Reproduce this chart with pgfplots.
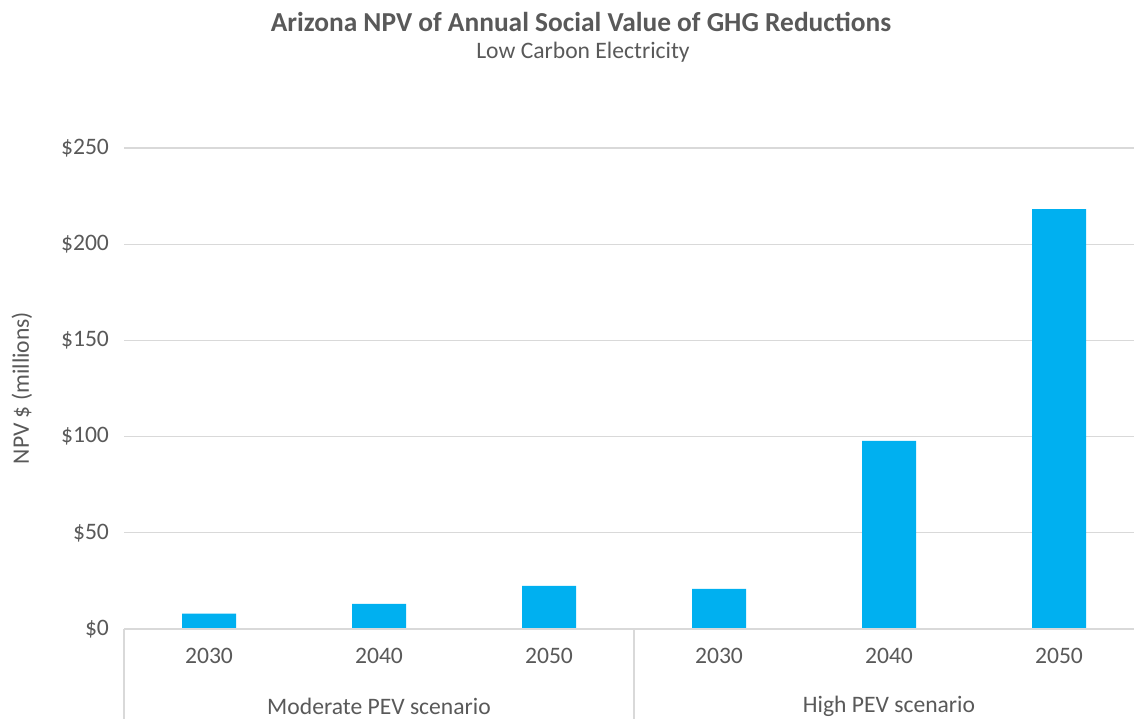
\documentclass[border=0pt]{standalone}
\usepackage{pgfplots}
\pgfplotsset{compat=1.18}
\usepackage{fontspec}
\setmainfont{Carlito}
\definecolor{txt}{HTML}{595959}
\definecolor{gridc}{HTML}{D9D9D9}
\definecolor{barc}{HTML}{00B0F0}
\begin{document}
\begin{tikzpicture}[x=1pt,y=1pt]
\useasboundingbox (0,0) rectangle (567,359.5);
\begin{axis}[
  at={(62pt,45pt)}, anchor=south west,
  scale only axis, width=510pt, height=240.5pt,
  xmin=0, xmax=6, ymin=0, ymax=250,
  axis line style={draw=none},
  ytick={0,50,100,150,200,250},
  yticklabel={\$\pgfmathprintnumber{\tick}},
  /pgf/number format/assume math mode=true,
  ymajorgrids=true, xmajorgrids=false,
  grid style={draw=gridc, line width=0.6pt},
  major tick length=0pt,
  xtick={0.5,1.5,2.5,3.5,4.5,5.5},
  xticklabels={2030,2040,2050,2030,2040,2050},
  tick label style={font=\fontsize{11.8}{14}\selectfont, text=txt},
  yticklabel style={xshift=-4pt},
  xticklabel style={yshift=-6pt},
  clip=false,
]
\addplot[ybar, bar width=27pt, fill=barc, draw=none] coordinates {
  (0.5,8.0) (1.5,13.1) (2.5,22.4) (3.5,20.8) (4.5,97.8) (5.5,218.2)
};
\draw[gridc, line width=0.6pt] (axis cs:0,0) -- (axis cs:6,0);
\draw[gridc, line width=0.6pt] (axis cs:0,0) -- ++(0,-45pt);
\draw[gridc, line width=0.6pt] (axis cs:3,0) -- ++(0,-45pt);
\draw[gridc, line width=0.6pt] (axis cs:6,0) -- ++(0,-45pt);
\node[text=txt, font=\fontsize{11.8}{14}\selectfont] at ([yshift=-38.5pt]axis cs:1.5,0) {Moderate PEV scenario};
\node[text=txt, font=\fontsize{11.8}{14}\selectfont] at ([yshift=-38.5pt]axis cs:4.5,0) {High PEV scenario};
\end{axis}
\node[text=txt, font=\bfseries\fontsize{13.7}{16}\selectfont] at (290.5,348.5) {Arizona NPV of Annual Social Value of GHG Reductions};
\node[text=txt, font=\fontsize{11.8}{14}\selectfont] at (291.5,333.5) {Low Carbon Electricity};
\node[text=txt, font=\fontsize{11.8}{14}\selectfont, rotate=90] at (11,165.5) {NPV \$ (millions)};
\end{tikzpicture}
\end{document}
